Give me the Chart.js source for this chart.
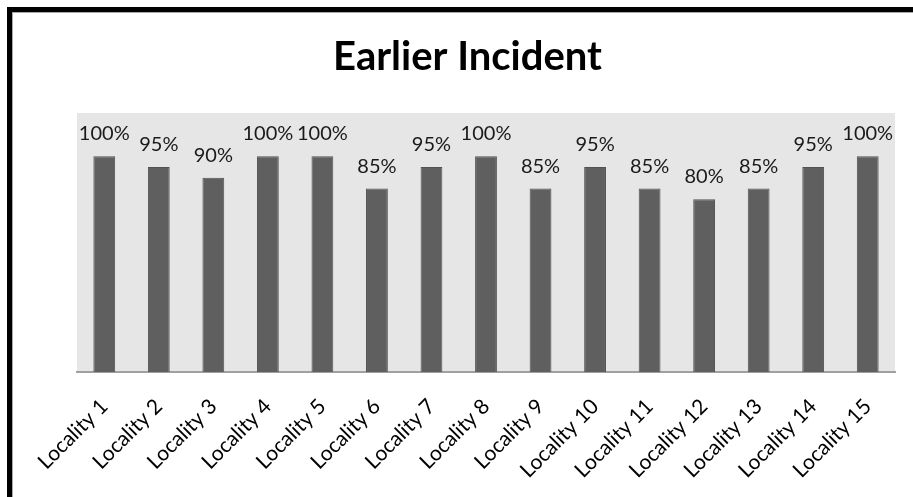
<!DOCTYPE html>
<html>
<head>
<meta charset="utf-8">
<script src="https://cdn.jsdelivr.net/npm/chart.js@4.4.0/dist/chart.umd.min.js"></script>
<style>
  html, body { margin: 0; padding: 0; background: #fff; overflow: hidden; width: 913px; height: 497px; }
  #frame { position: absolute; left: 7px; top: 7px; width: 1000px; height: 700px; border-left: 5px solid #000; border-top: 5px solid #000; }
  #frame2 { position: absolute; left: 0; top: 0; width: 100%; height: 100%; border-left: 1px solid #a8a8a8; border-top: 1px solid #a8a8a8; }
  #wrap { position: absolute; left: 0; top: 0; width: 913px; height: 497px; }
</style>
</head>
<body>
<div id="frame"><div id="frame2"></div></div>
<div id="wrap"><canvas id="c" width="913" height="497"></canvas></div>
<script>
const categories = ["Locality 1","Locality 2","Locality 3","Locality 4","Locality 5","Locality 6","Locality 7","Locality 8","Locality 9","Locality 10","Locality 11","Locality 12","Locality 13","Locality 14","Locality 15"];
const values = [100, 95, 90, 100, 100, 85, 95, 100, 85, 95, 85, 80, 85, 95, 100];
const titleText = "Earlier Incident";

const plotBg = {
  id: 'plotBg',
  beforeDraw(chart) {
    const a = chart.chartArea, ctx = chart.ctx;
    ctx.save();
    ctx.fillStyle = '#e6e6e6';
    ctx.fillRect(a.left, a.top, a.right - a.left, a.bottom - a.top);
    ctx.restore();
  }
};
const valueLabels = {
  id: 'valueLabels',
  afterDatasetsDraw(chart) {
    const ctx = chart.ctx;
    const meta = chart.getDatasetMeta(0);
    ctx.save();
    ctx.font = '20px Lato';
    ctx.fillStyle = '#1a1a1a';
    ctx.textAlign = 'center';
    ctx.textBaseline = 'alphabetic';
    meta.data.forEach((bar, i) => {
      ctx.fillText(values[i] + '%', bar.x, bar.y - 16);
    });
    ctx.restore();
  }
};

new Chart(document.getElementById('c'), {
  type: 'bar',
  data: {
    labels: categories,
    datasets: [{
      data: values,
      backgroundColor: '#5f5f5f',
      borderColor: '#525252',
      borderWidth: 1,
      barPercentage: 0.4,
      categoryPercentage: 1.0
    }]
  },
  options: {
    responsive: false,
    animation: false,
    layout: { padding: { left: 40, right: 18, top: 0, bottom: 0 } },
    plugins: {
      legend: { display: false },
      tooltip: { enabled: false },
      title: {
        display: true,
        text: titleText,
        color: '#000',
        font: { family: 'Lato', size: 40, weight: 'bold', lineHeight: 1.2 },
        padding: { top: 33, bottom: 32 }
      }
    },
    scales: {
      y: { display: false, min: 0, max: 120 },
      x: {
        grid: { display: false, drawTicks: false },
        border: { display: true, color: '#a0a0a0', width: 2 },
        ticks: {
          color: '#000',
          font: { family: 'Lato', size: 21 },
          maxRotation: 45, minRotation: 45,
          padding: 22,
          autoSkip: false
        },
        afterFit(scale) { scale.height = 125; scale.paddingLeft = 77; scale.paddingRight = 0; }
      }
    }
  },
  plugins: [plotBg, valueLabels]
});
</script>
</body>
</html>
